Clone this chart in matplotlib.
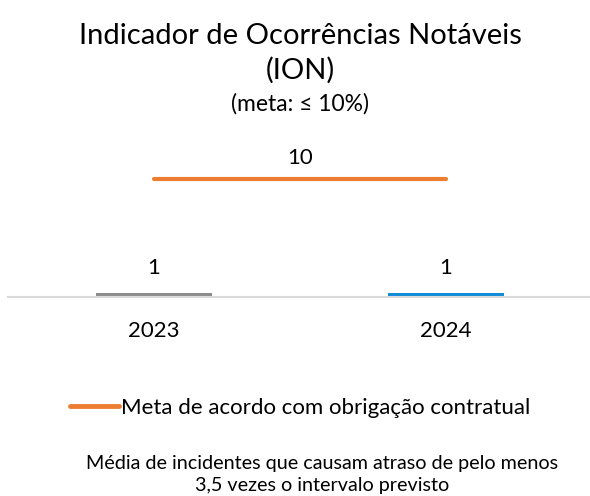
import matplotlib.pyplot as plt
from matplotlib.lines import Line2D

plt.rcParams['font.family'] = ['Lato', 'DejaVu Sans']

# Data
anos = ["2023", "2024"]
valores = [1, 1]
meta = [10, 10]
cores_barras = ["#8c8c8c", "#0e8ad6"]
cor_meta = "#ed7d31"

fig = plt.figure(figsize=(5.9, 4.96), dpi=100)
W, H = 590, 496

# plot area: baseline at y=297 px, top at 140 px
ax = fig.add_axes([8 / W, (H - 297) / H, 584 / W, 157 / H])
x = range(len(anos))

bars = ax.bar(x, valores, width=0.4, color=cores_barras, zorder=2)
ax.plot(x, meta, color=cor_meta, linewidth=3, solid_capstyle="round", zorder=3)

for xi, v in zip(x, valores):
    ax.annotate(f"{v}", (xi, v), xytext=(0, 11), textcoords="offset points",
                ha="center", va="bottom", fontsize=16)
ax.annotate(f"{meta[0]}", ((x[0] + x[-1]) / 2, meta[0]), xytext=(0, 8),
            textcoords="offset points", ha="center", va="bottom", fontsize=16)

ax.set_xlim(-0.5, 1.5)
ax.set_ylim(0.684, 13.08)
ax.set_xticks(list(x))
ax.set_xticklabels(anos, fontsize=16)
ax.tick_params(axis="x", length=0, pad=17)
ax.set_yticks([])
for s in ["top", "left", "right"]:
    ax.spines[s].set_visible(False)
ax.spines["bottom"].set_color("#d9d9d9")
ax.spines["bottom"].set_linewidth(1.5)
ax.set_facecolor("none")

fig.text(300 / W, 1 - 36 / H, "Indicador de Ocorrências Notáveis", ha="center", va="center", fontsize=21)
fig.text(300 / W, 1 - 70 / H, "(ION)", ha="center", va="center", fontsize=21)
fig.text(300 / W, 1 - 104 / H, "(meta: ≤ 10%)", ha="center", va="center", fontsize=16.5)

handle = Line2D([], [], color=cor_meta, linewidth=3.5, solid_capstyle="round")
fig.legend([handle], ["Meta de acordo com obrigação contratual"], loc="center",
           bbox_to_anchor=(300 / W, 1 - 408 / H), frameon=False, fontsize=16,
           handlelength=2.2, handletextpad=0.1)

fig.text(322 / W, 1 - 463 / H, "Média de incidentes que causam atraso de pelo menos",
         ha="center", va="center", fontsize=14.2)
fig.text(322 / W, 1 - 486 / H, "3,5 vezes o intervalo previsto",
         ha="center", va="center", fontsize=14.2)

fig.savefig("out.png", dpi=100)
